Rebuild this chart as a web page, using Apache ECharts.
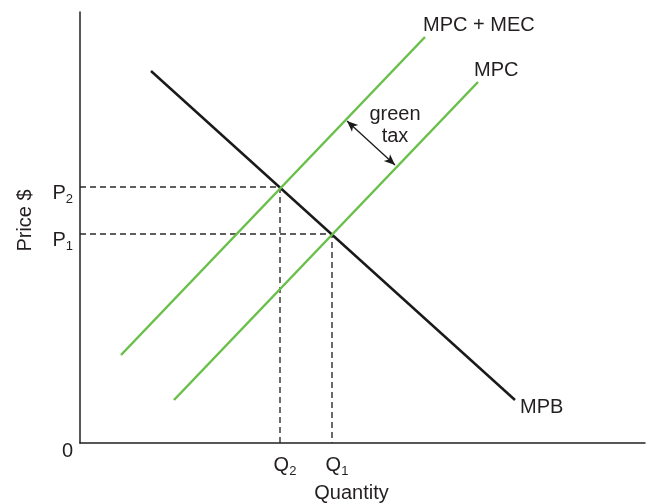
<!DOCTYPE html>
<html><head><meta charset="utf-8">
<script src="https://cdn.jsdelivr.net/npm/echarts@6/dist/echarts.min.js"></script>
<style>html,body{margin:0;padding:0;background:#fff}#c{width:648px;height:504px}</style>
</head><body><div id="c"></div>
<script>
// Data in abstract units (quantity, price)
const xMax = 113, yMax = 86.2;
const mpb = [[14.2, 74.4], [87, 8.6]];
const mpcMec = [[8.2, 17.6], [69, 81.2]];
const mpc = [[18.8, 8.6], [79.6, 72.2]];
const P2 = 51.2, P1 = 41.8, Q2 = 40, Q1 = 50.4;
const taxArrow = [[53.4, 64.4], [63, 55.6]];
const taxLabelPos = [63, 63.6];
const yTicks = [P1, P2];
const xTicks = [Q2, Q1];

const font = '"Liberation Sans", Arial, Helvetica, sans-serif';
const txt = '#231f20';
const green = '#6abf4b';

function line(name, pts, color, labOffset) {
  return {type: 'line', name: name, symbol: 'none', silent: true,
    lineStyle: {color: color, width: 2.5},
    endLabel: {show: true, formatter: name, offset: labOffset, distance: 5,
      color: txt, fontSize: 20, fontFamily: font},
    data: pts};
}
const dashStyle = {color: '#2b2b2b', width: 1.4, type: [6, 4]};
const rich = {
  m: {fontSize: 20, fontFamily: font, color: txt},
  s: {fontSize: 13, fontFamily: font, color: txt, padding: [12, 0, 0, 0]}
};

const chart = echarts.init(document.getElementById('c'), null, {renderer: 'canvas'});
chart.setOption({
  animation: false,
  grid: {left: 80, top: 12, right: 3, bottom: 61, containLabel: false, outerBoundsMode: 'none'},
  xAxis: {type: 'value', min: 0, max: xMax,
    name: 'Quantity', nameLocation: 'middle', nameGap: 40,
    nameTextStyle: {color: txt, fontSize: 20, fontFamily: font, padding: [0, 22, 0, 0]},
    axisLine: {show: true, lineStyle: {color: txt, width: 1.5}},
    axisTick: {show: false}, splitLine: {show: false},
    axisLabel: {customValues: xTicks, margin: 10, padding: [0, 0, 0, 10],
      formatter: v => Math.abs(v - Q2) < 0.01 ? '{m|Q}{s|2}' : '{m|Q}{s|1}', rich: rich}},
  yAxis: {type: 'value', min: 0, max: yMax,
    name: 'Price $', nameLocation: 'middle', nameGap: 45, nameRotate: 90,
    nameTextStyle: {color: txt, fontSize: 20, fontFamily: font, padding: [0, 0, 0, 14]},
    axisLine: {show: true, lineStyle: {color: txt, width: 1.5}},
    axisTick: {show: false}, splitLine: {show: false},
    axisLabel: {customValues: yTicks, margin: 7, padding: [12, 0, 0, 0],
      formatter: v => Math.abs(v - P2) < 0.01 ? '{m|P}{s|2}' : '{m|P}{s|1}', rich: rich}},
  graphic: [{type: 'text', left: 62, top: 441,
    style: {text: '0', fontSize: 20, fontFamily: font, fill: txt}}],
  series: [
    {type: 'line', symbol: 'none', silent: true, lineStyle: dashStyle,
      data: [[0, P2], [Q2, P2], [Q2, 0]]},
    {type: 'line', symbol: 'none', silent: true, lineStyle: dashStyle,
      data: [[0, P1], [Q1, P1], [Q1, 0]]},
    line('MPB', mpb, '#1a1a1a', [0, 7]),
    line('MPC + MEC', mpcMec, green, [-7, -12]),
    line('MPC', mpc, green, [-9, -12]),
    {type: 'line', symbol: 'none', silent: true, lineStyle: {width: 0}, data: [],
      markLine: {silent: true, symbol: ['arrow', 'arrow'], symbolSize: [7, 11],
        label: {show: false}, lineStyle: {color: '#1a1a1a', width: 1.3, type: 'solid'},
        data: [[{coord: taxArrow[0]}, {coord: taxArrow[1]}]]}},
    {type: 'scatter', symbolSize: 0, silent: true, data: [taxLabelPos],
      itemStyle: {opacity: 1},
      label: {show: true, position: 'inside', formatter: 'green\ntax', color: txt, opacity: 1,
        fontSize: 20, fontFamily: font, lineHeight: 22, align: 'center'}}
  ]
});
</script></body></html>
